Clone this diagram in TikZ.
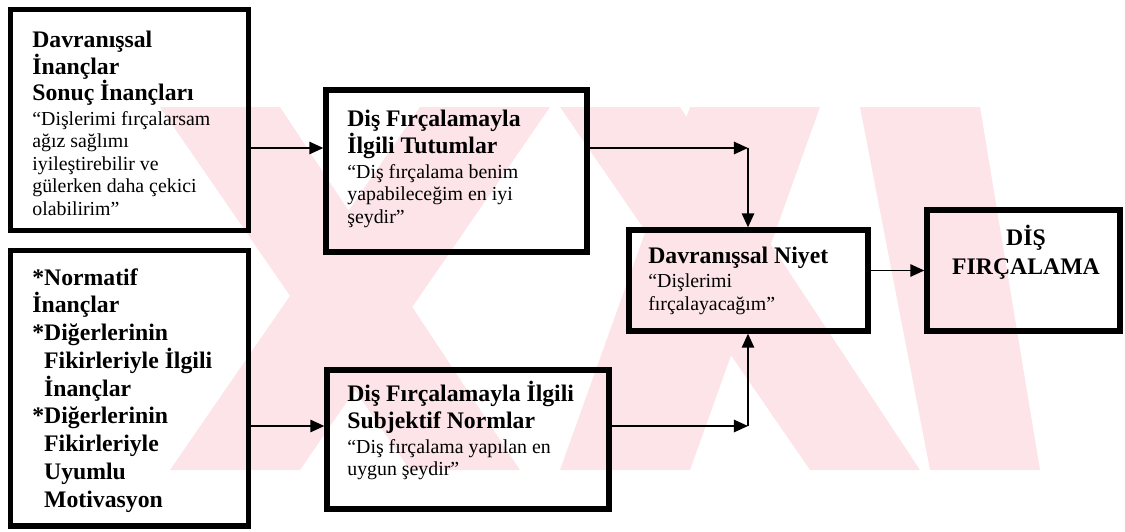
\documentclass[tikz,border=0pt]{standalone}
\usepackage{fontspec}
\setmainfont{Liberation Serif}
\usetikzlibrary{arrows.meta, positioning, fit}
\definecolor{wmPink}{HTML}{FCE4E8}
\tikzset{
  arrowK/.style={-{Triangle[length=8pt, width=7pt]}, line width=1.1pt},
  boxK/.style={rectangle, draw=black, line width=3pt, inner sep=0pt},
  headT/.style={font=\fontsize{13.5}{15}\selectfont\bfseries, align=left, inner sep=0pt},
  quoteT/.style={font=\fontsize{11.3}{12.8}\selectfont, align=left, inner sep=0pt},
}

\begin{document}
\begin{tikzpicture}[x=0.02cm, y=-0.02cm]
    \useasboundingbox (0,0) rectangle (1125,531);

    %% watermark in the background
    \begin{scope}
      \clip (0,107) rectangle (1125,470);
      \foreach \a/\b in {160/410, 560/810, 860/930}
        \fill[wmPink] (\a,107) -- ({\a+120},107) -- ({\b+110},470) -- (\b,470) -- cycle;
      \foreach \a/\b in {420/170, 690/560}
        \fill[wmPink] (\a,107) -- ({\a+130},107) -- ({\b+130},470) -- (\b,470) -- cycle;
    \end{scope}

    %% Sol: inanclar
    \node[boxK, fit={(10.5,9.5) (248.5,230.5)}] (dav) {};
    \node[headT, anchor=north west] (davH) at (32,31)
         {Davranışsal\\İnançlar\\Sonuç İnançları};
    \node[quoteT, below=3pt of davH.south west, anchor=north west] (davQ)
         {“Dişlerimi fırçalarsam\\ağız sağlımı\\iyileştirebilir ve\\gülerken daha çekici\\olabilirim”};

    \node[boxK, fit={(10.5,250.5) (248.5,526)}] (norm) {};
    \node[headT, font=\fontsize{13.5}{15.8}\selectfont\bfseries, anchor=north west] (normH) at (32,268)
         {*Normatif\\İnançlar\\*Diğerlerinin\\\phantom{*}Fikirleriyle İlgili\\\phantom{*}İnançlar\\
          *Diğerlerinin\\\phantom{*}Fikirleriyle\\\phantom{*}Uyumlu\\\phantom{*}Motivasyon};

    %% Orta: tutumlar + normlar
    \node[boxK, fit={(326,90) (587,252)}] (tut) {};
    \node[headT, anchor=north west] (tutH) at (347,110)
         {Diş Fırçalamayla\\İlgili Tutumlar};
    \node[quoteT, below=3pt of tutH.south west, anchor=north west] (tutQ)
         {“Diş fırçalama benim\\yapabileceğim en iyi\\şeydir”};

    \node[boxK, fit={(327,370) (609,509)}] (sub) {};
    \node[headT, anchor=north west] (subH) at (347,381)
         {Diş Fırçalamayla İlgili\\Subjektif Normlar};
    \node[quoteT, below=3pt of subH.south west, anchor=north west] (subQ)
         {“Diş fırçalama yapılan en\\uygun şeydir”};

    %% Sag: niyet + davranis
    \node[boxK, fit={(629,230) (868,331)}] (niy) {};
    \node[headT, anchor=north west] (niyH) at (648,247) {Davranışsal Niyet};
    \node[quoteT, below=2.5pt of niyH.south west, anchor=north west] (niyQ)
         {“Dişlerimi\\fırçalayacağım”};

    \node[boxK, fit={(927,210) (1120,331)}] (fir) {};
    \node[headT, font=\fontsize{13.5}{16.5}\selectfont\bfseries, align=center, anchor=north] (firH)
         at (1026,225) {DİŞ\\FIRÇALAMA};

    %% oklar
    \coordinate (jTop) at (748,148);
    \coordinate (jBot) at (748,426);
    \draw[arrowK] (dav.east |- jTop) -- (tut.west |- jTop);
    \draw[arrowK] (tut.east |- jTop) -- (jTop);
    \draw[arrowK] (jTop) -- (jTop |- niy.north);
    \draw[arrowK] (norm.east |- jBot) -- (sub.west |- jBot);
    \draw[arrowK] (sub.east |- jBot) -- (jBot);
    \draw[arrowK] (jBot) -- (jBot |- niy.south);
    \draw[arrowK] (niy.east |- fir.west) -- (fir.west);
\end{tikzpicture}
\end{document}
